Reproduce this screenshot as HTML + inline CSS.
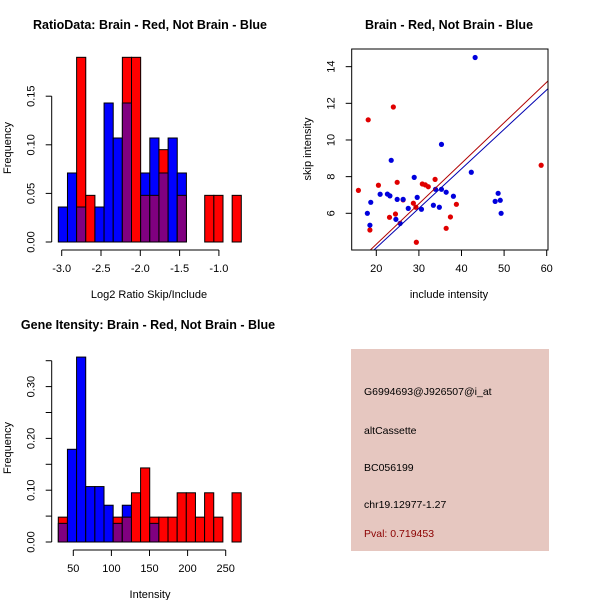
<!DOCTYPE html>
<html><head><meta charset="utf-8"><style>
body{margin:0;background:#fff;}
svg{display:block;font-family:"Liberation Sans",sans-serif;}
</style></head><body>
<svg id="s" width="600" height="600" viewBox="0 0 600 600"></svg>
<script>
// Panel 1: ratio histogram
const ratioBinStart = -3.043, ratioBinWidth = 0.1164;
const ratioRed = [0,0,0.19,0.048,0,0,0,0.19,0.19,0.048,0.048,0.095,0,0.048,0,0,0.048,0.048,0,0.048];
const ratioBlue = [0.036,0.071,0.036,0,0.036,0.143,0.107,0.143,0,0.071,0.107,0.071,0.107,0.071,0,0,0,0,0,0];
const ratioXTicks = [-3.0,-2.5,-2.0,-1.5,-1.0];
const ratioXTickLabels = ["-3.0","-2.5","-2.0","-1.5","-1.0"];
const ratioYTicks = [0,0.05,0.10,0.15];
const ratioYTickLabels = ["0.00","0.05","0.10","0.15"];
// Panel 2: scatter
const redX = [15.8,18.1,20.5,24.0,18.5,23.1,24.9,24.5,26.3,28.7,29.3,29.4,30.8,31.5,32.2,33.8,37.4,36.4,38.8,58.7];
const redY = [7.25,11.1,7.53,11.8,5.09,5.78,7.69,5.96,6.73,6.55,6.33,4.42,7.6,7.55,7.45,7.85,5.8,5.18,6.49,8.62];
const blueX = [17.9,18.5,18.7,20.9,22.6,23.2,23.5,24.9,24.6,25.6,26.3,27.5,28.9,29.6,30.6,33.4,34.8,33.9,35.3,35.3,36.4,38.1,42.3,43.2,47.9,48.6,49.1,49.3];
const blueY = [6.0,5.35,6.6,7.04,7.05,6.95,8.89,6.76,5.67,5.45,6.76,6.27,7.96,6.87,6.22,6.44,6.33,7.31,7.31,9.76,7.15,6.93,8.24,14.5,6.65,7.09,6.71,6.0];
const redLine = [18.6,4.0,60.4,13.24];
const blueLine = [19.45,4.0,60.4,12.82];
const scXTicks = [20,30,40,50,60];
const scYTicks = [6,8,10,12,14];
// Panel 3: gene intensity histogram
const geneBinStart = 30.3, geneBinWidth = 12.0;
const geneRed = [0.048,0,0,0,0,0,0.048,0.048,0.095,0.143,0.048,0.048,0.048,0.095,0.095,0.048,0.095,0.048,0,0.095];
const geneBlue = [0.036,0.179,0.357,0.107,0.107,0.071,0.036,0.071,0,0,0.036,0,0,0,0,0,0,0,0,0];
const geneXTicks = [50,100,150,200,250];
const geneYTicks = [0,0.05,0.10,0.15,0.20,0.25,0.30,0.35];
const geneYTickLabels = ["0.00","","0.10","","0.20","","0.30",""];

const svg=document.getElementById('s');
const NS='http://www.w3.org/2000/svg';
function mk(tag,attrs,name,parent){const e=document.createElementNS(NS,tag);for(const k in attrs)e.setAttribute(k,attrs[k]);


(parent||svg).appendChild(e);return e;}
function txt(x,y,s,name,opt){opt=opt||{};const a={x:x,y:y,'font-size':opt.fs||11,'text-anchor':opt.anchor||'middle',fill:opt.fill||'#000'};
if(opt.bold)a['font-weight']='bold';if(opt.rot)a.transform='rotate(-90 '+x+' '+y+')';const t=mk('text',a,name);t.textContent=s;return t;}

function hist(cfg){
  const {x0,xs,y0,ys,start,w,red,blue,prefix}=cfg;
  const X=v=>x0+(v-cfg.xv0)*xs, Y=v=>y0-v*ys;
  for(let i=0;i<red.length;i++){
    const l=X(start+i*w), r=X(start+(i+1)*w);
    const hi=Math.max(red[i],blue[i]), lo=Math.min(red[i],blue[i]);
    if(hi>0){mk('rect',{x:l,y:Y(hi),width:r-l,height:Y(0)-Y(hi),fill:red[i]>=blue[i]?'#FF0000':'#0000FF',stroke:'#000','stroke-width':1},prefix+'-bar-'+i);}
    if(lo>0){mk('rect',{x:l,y:Y(lo),width:r-l,height:Y(0)-Y(lo),fill:'#800080',stroke:'#000','stroke-width':1},prefix+'-overlap-bar-'+i);}
  }
  return {X,Y};
}
function yaxis(ax,Y,ticks,labels,prefix){
  mk('line',{x1:ax,x2:ax,y1:Y(ticks[0]),y2:Y(ticks[ticks.length-1]),stroke:'#000'},prefix+'-y-axis');
  ticks.forEach((t,i)=>{const y=Y(t);mk('line',{x1:ax-6,x2:ax,y1:y,y2:y,stroke:'#000'},prefix+'-y-tick');
    if(labels[i])txt(ax-20,y,labels[i],prefix+'-y-tick-label',{rot:true,fs:11}).setAttribute('dominant-baseline','middle');});
}
function xaxis(ay,X,ticks,labels,prefix){
  mk('line',{x1:X(ticks[0]),x2:X(ticks[ticks.length-1]),y1:ay,y2:ay,stroke:'#000'},prefix+'-x-axis');
  ticks.forEach((t,i)=>{const x=X(t);mk('line',{x1:x,x2:x,y1:ay,y2:ay+6,stroke:'#000'},prefix+'-x-tick');
    txt(x,ay+22,labels[i],prefix+'-x-tick-label');});
}

// Panel 1
{
  const h=hist({x0:61.7,xv0:-3.0,xs:78.6,y0:242,ys:972,start:ratioBinStart,w:ratioBinWidth,red:ratioRed,blue:ratioBlue,prefix:'ratio'});
  yaxis(51.7,h.Y,ratioYTicks,ratioYTickLabels,'ratio');
  xaxis(250,h.X,ratioXTicks,ratioXTickLabels,'ratio');
  txt(150,29,'RatioData: Brain - Red, Not Brain - Blue','ratio-title',{bold:true,fs:12.5});
  txt(149,298,'Log2 Ratio Skip/Include','ratio-x-title',{fs:11});
  txt(11,148,'Frequency','ratio-y-title',{rot:true,fs:11});
}
// Panel 2
{
  const X=v=>376.3+(v-20)*4.26, Y=v=>213.3-(v-6)*18.33;
  const g=mk('g',{},'scatter-plot');
  const cp=mk('clipPath',{id:'cp'},'scatter-clip');
  mk('rect',{x:351.7,y:49,width:196.3,height:201},'scatter-clip-rect',cp);
  redX.forEach((x,i)=>mk('circle',{cx:X(x),cy:Y(redY[i]),r:2.6,fill:'#E00000'},'red-point',g));
  blueX.forEach((x,i)=>mk('circle',{cx:X(x),cy:Y(blueY[i]),r:2.6,fill:'#0000DD'},'blue-point',g));
  mk('line',{x1:X(redLine[0]),y1:Y(redLine[1]),x2:X(redLine[2]),y2:Y(redLine[3]),stroke:'#B00000','stroke-width':1,'clip-path':'url(#cp)'},'red-fit-line');
  mk('line',{x1:X(blueLine[0]),y1:Y(blueLine[1]),x2:X(blueLine[2]),y2:Y(blueLine[3]),stroke:'#0000B0','stroke-width':1,'clip-path':'url(#cp)'},'blue-fit-line');
  mk('rect',{x:351.7,y:49,width:196.3,height:201,fill:'none',stroke:'#000'},'scatter-frame');
  scXTicks.forEach(t=>{const x=X(t);mk('line',{x1:x,x2:x,y1:250,y2:256,stroke:'#000'},'scatter-x-tick');txt(x,272,String(t),'scatter-x-tick-label');});
  scYTicks.forEach(t=>{const y=Y(t);mk('line',{x1:345.7,x2:351.7,y1:y,y2:y,stroke:'#000'},'scatter-y-tick');txt(331.7,y,String(t),'scatter-y-tick-label',{rot:true}).setAttribute('dominant-baseline','middle');});
  txt(449,29,'Brain - Red, Not Brain - Blue','scatter-title',{bold:true,fs:12.5});
  txt(449,298,'include intensity','scatter-x-title');
  txt(311,149,'skip intensity','scatter-y-title',{rot:true});
}
// Panel 3
{
  const h=hist({x0:73.3,xv0:50,xs:0.762,y0:542,ys:518,start:geneBinStart,w:geneBinWidth,red:geneRed,blue:geneBlue,prefix:'gene'});
  yaxis(51.7,h.Y,geneYTicks,geneYTickLabels,'gene');
  xaxis(550,h.X,geneXTicks,geneXTicks.map(String),'gene');
  txt(148,329,'Gene Itensity: Brain - Red, Not Brain - Blue','gene-title',{bold:true,fs:12.5});
  txt(150,598,'Intensity','gene-x-title');
  txt(11,448,'Frequency','gene-y-title',{rot:true});
}
// Panel 4 info box
{
  mk('rect',{x:351,y:349,width:198,height:202,fill:'#E6C7C0'},'info-box');
  const lines=[['G6994693@J926507@i_at',395,'probe-id-text','#000'],['altCassette',434,'event-type-text','#000'],['BC056199',471,'accession-text','#000'],['chr19.12977-1.27',508,'location-text','#000'],['Pval: 0.719453',537,'pval-text','#8B0000']];
  lines.forEach(l=>txt(364,l[1],l[0],l[2],{anchor:'start',fill:l[3],fs:10.5}));
}
</script>
</body></html>
